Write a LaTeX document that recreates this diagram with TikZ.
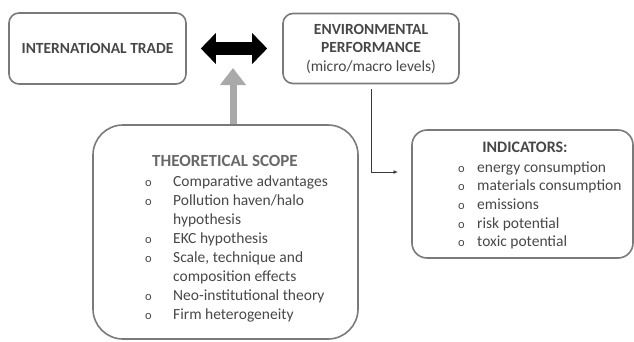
\documentclass[tikz,border=0pt]{standalone}
\usepackage{fontspec}
\setmainfont{Carlito}
\usetikzlibrary{positioning}
\usetikzlibrary{arrows.meta}
\definecolor{boxgray}{HTML}{7A7A7A}
\definecolor{txtgray}{HTML}{474747}
\definecolor{headgray}{HTML}{686868}
\definecolor{arrgray}{HTML}{A9A9A9}
\definecolor{lingray}{HTML}{3A3A3A}
\newcommand{\listbullet}{{\fontsize{12.5}{19}\selectfont o}}
\tikzset{
    mybox/.style = {rectangle, rounded corners=10pt, line width=1.6pt, draw=boxgray, align=center, inner sep=0pt, text=txtgray, font=\fontsize{15.5}{18.5}\selectfont},
    mybigbox/.style = {mybox, rounded corners=30pt},
    mymidbox/.style = {mybox, rounded corners=15pt},
    myhead/.style = {anchor=base, inner sep=0pt, text=txtgray, font=\fontsize{16}{18.5}\selectfont\bfseries},
    mylist/.style = {anchor=base west, inner sep=0pt, text=txtgray, font=\fontsize{15.5}{19}\selectfont},
    edgedbl/.style = {{Triangle[length=15pt,width=30pt]}-{Triangle[length=15pt,width=30pt]}, line width=13pt, black},
    edgeg/.style = {-{Triangle[length=17pt,width=25pt]}, line width=7pt, arrgray},
    edgen/.style = {-{Latex[length=4.5pt,width=4pt]}, line width=1pt, lingray}
}

\begin{document}
\begin{tikzpicture}[x=1pt, y=1pt]
  \useasboundingbox (0,0) rectangle (634,-341);
  % boxes
  \node[mybox, minimum width=177pt, minimum height=71pt, font=\fontsize{15.5}{18.5}\selectfont\bfseries] (trade) at (97.5,-48.5) {INTERNATIONAL TRADE};
  \node[mybox, minimum width=176pt, minimum height=70pt] (envperf) at (371,-48.5) {\textbf{ENVIRONMENTAL}\\\textbf{PERFORMANCE}\\(micro/macro levels)};
  \node[mybigbox, minimum width=265pt, minimum height=214pt] (scope) at (225.5,-232) {};
  \node[mymidbox, minimum width=221pt, minimum height=128pt] (indic) at (522.5,-194) {};
  % texts
  \node[myhead, text=headgray, font=\fontsize{17}{18.5}\selectfont\bfseries] (scopehead) at (225,-166.7) {THEORETICAL SCOPE};
  \node[mylist] (scopelist) at (145,-186.7) {\begin{tabular}[t]{@{}p{28pt}@{}l@{}}
    \listbullet & Comparative advantages\\
    \listbullet & Pollution haven/halo\\
                & hypothesis\\
    \listbullet & EKC hypothesis\\
    \listbullet & Scale, technique and\\
                & composition effects\\
    \listbullet & Neo-institutional theory\\
    \listbullet & Firm heterogeneity
  \end{tabular}};
  \node[myhead] (indichead) at (525,-152.7) {INDICATORS:};
  \node[mylist, font=\fontsize{15.5}{18.7}\selectfont] (indiclist) at (458,-172) {\begin{tabular}[t]{@{}p{19pt}@{}l@{}}
    \listbullet & energy consumption\\
    \listbullet & materials consumption\\
    \listbullet & emissions\\
    \listbullet & risk potential\\
    \listbullet & toxic potential
  \end{tabular}};
  % connectors
  \coordinate (scopetip) at (233,-68);
  \coordinate (indicin) at (398,-172);
  \draw[edgedbl, shorten <=14pt, shorten >=15pt] (trade.east) -- (envperf.west);
  \draw[edgeg] (scopetip |- scope.north) -- (scopetip);
  \draw[edgen] ([yshift=-5pt]envperf.south) |- (indicin);
\end{tikzpicture}
\end{document}
